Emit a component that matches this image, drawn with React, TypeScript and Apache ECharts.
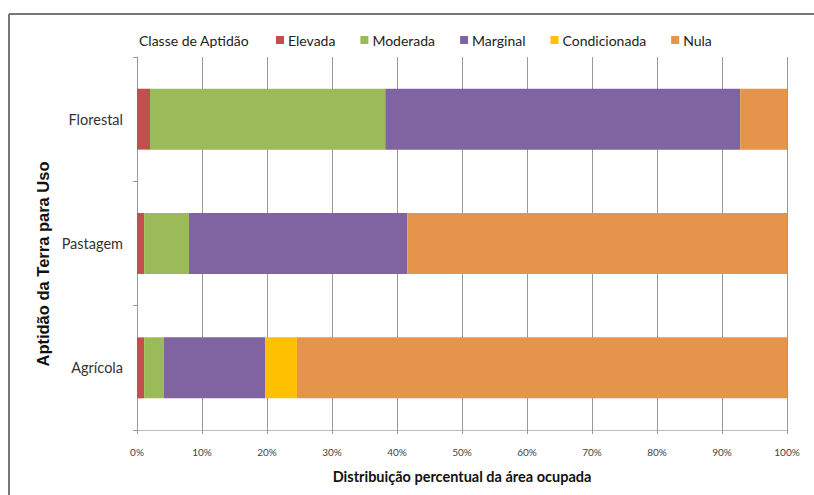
import React, { useEffect, useRef } from "react";
import * as echarts from "echarts";

const categories = ["Florestal", "Pastagem", "Agrícola"];
const seriesNames = ["Elevada", "Moderada", "Marginal", "Condicionada", "Nula"];
const elevada = [2.0, 1.1, 1.1];
const moderada = [36.2, 6.9, 3.0];
const marginal = [54.6, 33.6, 15.6];
const condicionada = [0, 0, 4.9];
const nula = [7.2, 58.4, 75.4];
const xTicks = [0, 10, 20, 30, 40, 50, 60, 70, 80, 90, 100];
const colors = ["#C0504D", "#9BBB59", "#8064A2", "#FFC000", "#E5944B"];

const FONT = "Lato";

export default function App() {
  const ref = useRef<HTMLDivElement>(null);
  useEffect(() => {
    if (!ref.current) return;
    const chart = echarts.init(ref.current, null, { renderer: "svg" });
    const values = [elevada, moderada, marginal, condicionada, nula];
    chart.setOption({
      animation: false,
      backgroundColor: "#fff",
      textStyle: { fontFamily: FONT },
      legend: {
        data: seriesNames,
        left: 271,
        top: 28,
        itemWidth: 8,
        itemHeight: 8,
        itemGap: 25,
        icon: "rect",
        textStyle: { fontFamily: FONT, fontSize: 14, color: "#222", padding: [0, 0, 0, -1] },
      },
      grid: { left: 137, right: 27, top: 57, bottom: 65, containLabel: false },
      xAxis: {
        type: "value",
        min: 0,
        max: 100,
        interval: 10,
        axisLine: { show: true, lineStyle: { color: "#bbb", width: 1 } },
        axisTick: { show: true, length: 4, lineStyle: { color: "#999" } },
        splitLine: { show: true, lineStyle: { color: "#999", width: 1 } },
        axisLabel: {
          margin: 17,
          fontFamily: FONT,
          fontSize: 10,
          color: "#444",
          formatter: (v: number) => (xTicks.includes(v) ? v + "%" : ""),
        },
      },
      yAxis: {
        type: "category",
        data: categories,
        inverse: true,
        axisLine: { show: true, lineStyle: { color: "#999", width: 1 } },
        axisTick: { show: true, length: 4, lineStyle: { color: "#999" } },
        axisLabel: { margin: 14, fontFamily: FONT, fontSize: 14.5, color: "#333" },
      },
      series: seriesNames.map((name, i) => ({
        name,
        type: "bar",
        stack: "total",
        barCategoryGap: "51%",
        data: values[i],
        itemStyle: { color: colors[i] },
      })),
      graphic: [
        {
          type: "line",
          shape: { x1: 9, y1: 14, x2: 814, y2: 14 },
          style: { stroke: "#777", lineWidth: 2 },
          silent: true,
        },
        {
          type: "line",
          shape: { x1: 9, y1: 14, x2: 9, y2: 495 },
          style: { stroke: "#777", lineWidth: 2 },
          silent: true,
        },
        {
          type: "text",
          x: 139,
          y: 40,
          style: {
            text: "Classe de Aptidão",
            fontFamily: FONT,
            fontSize: 14,
            fill: "#222",
            verticalAlign: "middle",
          },
        },
        {
          type: "text",
          x: 43,
          y: 264,
          rotation: Math.PI / 2,
          style: {
            text: "Aptidão da Terra para Uso",
            fontFamily: "Liberation Sans",
            fontSize: 16.5,
            fontWeight: "bold",
            fill: "#111",
            align: "center",
            verticalAlign: "middle",
          },
        },
        {
          type: "text",
          x: 462,
          y: 476,
          style: {
            text: "Distribuição percentual da área ocupada",
            fontFamily: FONT,
            fontSize: 14.5,
            fontWeight: "bold",
            fill: "#111",
            align: "center",
            verticalAlign: "middle",
          },
        },
      ],
    });
    return () => chart.dispose();
  }, []);
  return (
    <div
      ref={ref}
      style={{ position: "absolute", left: 0, top: 0, width: 814, height: 495 }}
    />
  );
}
